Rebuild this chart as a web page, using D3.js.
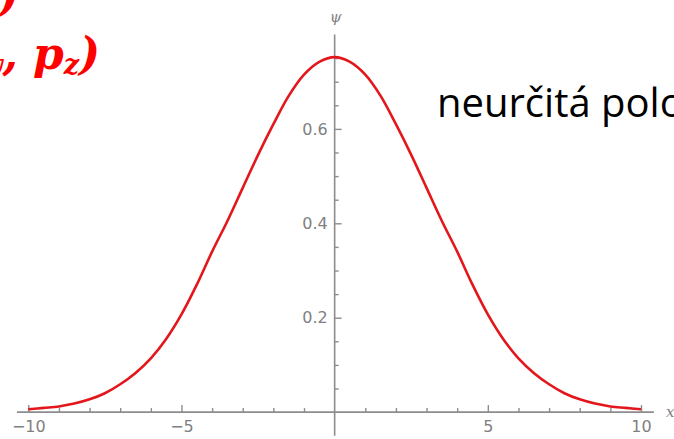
<!DOCTYPE html>
<html>
<head>
<meta charset="utf-8">
<script src="https://d3js.org/d3.v7.min.js"></script>
<style>
  body { margin: 0; background: #fff; }
  svg { display: block; }
  .tick text { font-family: "DejaVu Sans", sans-serif; font-size: 16px; fill: #808080; }
</style>
</head>
<body>
<div id="chart"></div>
<script>
// values (psi at x)
const xs  = [-10, -9.5, -9, -8.5, -8, -7.5, -7, -6.5, -6, -5.5, -5, -4.5, -4, -3.5, -3, -2.5, -2, -1.5, -1, -0.5,
             0, 0.5, 1, 1.5, 2, 2.5, 3, 3.5, 4, 4.5, 5, 5.5, 6, 6.5, 7, 7.5, 8, 8.5, 9, 9.5, 10];
const psi = [0.006, 0.009, 0.012, 0.018, 0.027, 0.040, 0.059, 0.083, 0.114, 0.155, 0.207, 0.270, 0.340, 0.405, 0.475, 0.545, 0.610, 0.670, 0.715, 0.742,
             0.752, 0.742, 0.715, 0.670, 0.610, 0.545, 0.475, 0.405, 0.340, 0.270, 0.207, 0.155, 0.114, 0.083, 0.059, 0.040, 0.027, 0.018, 0.012, 0.009, 0.006];

const xMajor = [-10, -5, 5, 10];
const xMinor = [-9, -8, -7, -6, -4, -3, -2, -1, 1, 2, 3, 4, 6, 7, 8, 9];
const yMajor = [0.2, 0.4, 0.6];
const yMinor = [0.05, 0.1, 0.15, 0.25, 0.3, 0.35, 0.45, 0.5, 0.55, 0.65, 0.7, 0.75];

const width = 674, height = 439;
const axisColor = "#8c8c8c";

const svg = d3.select("#chart").append("svg")
    .attr("width", width)
    .attr("height", height);

const x = d3.scaleLinear().domain([-10, 10]).range([28.3, 641]);
const y = d3.scaleLinear().domain([0, 0.6]).range([412.1, 128.9]);

// axis lines, a bit longer than the data range like Mathematica does
svg.append("line")
    .attr("x1", x(-10.37)).attr("x2", x(10.42))
    .attr("y1", y(0)).attr("y2", y(0))
    .attr("stroke", axisColor).attr("stroke-width", 1.6);
svg.append("line")
    .attr("x1", x(0)).attr("x2", x(0))
    .attr("y1", y(0.8)).attr("y2", y(-0.05))
    .attr("stroke", axisColor).attr("stroke-width", 1.6);

// x ticks (pointing up), labels below
const gx = svg.append("g").attr("transform", `translate(0,${y(0)})`);
gx.append("g")
    .call(d3.axisBottom(x).tickValues(xMinor).tickSize(-4).tickFormat(""));
gx.append("g")
    .call(d3.axisBottom(x).tickValues(xMajor).tickSize(-7).tickPadding(9)
        .tickFormat(d => d < 0 ? "\u2212" + Math.abs(d) : d));
gx.selectAll(".domain").remove();
gx.selectAll(".tick line").attr("stroke", axisColor).attr("stroke-width", 1.4);

// y ticks (pointing right), labels on the left
const gy = svg.append("g").attr("transform", `translate(${x(0)},0)`);
gy.append("g")
    .call(d3.axisLeft(y).tickValues(yMinor).tickSize(-4).tickFormat(""));
gy.append("g")
    .call(d3.axisLeft(y).tickValues(yMajor).tickSize(-7).tickPadding(7)
        .tickFormat(d3.format(".1f")));
gy.selectAll(".domain").remove();
gy.selectAll(".tick line").attr("stroke", axisColor).attr("stroke-width", 1.4);

// axis names
svg.append("text")
    .attr("x", x(0) + 1).attr("y", 22)
    .attr("text-anchor", "middle")
    .style("font-family", "DejaVu Serif, serif").style("font-style", "italic")
    .style("font-size", "15px").style("fill", "#808080")
    .text("ψ");
svg.append("text")
    .attr("x", 666).attr("y", 417)
    .style("font-family", "DejaVu Serif, serif").style("font-style", "italic")
    .style("font-size", "15px").style("fill", "#808080")
    .text("x");

// the curve
const line = d3.line()
    .x((d, i) => x(xs[i]))
    .y(d => y(d))
    .curve(d3.curveCatmullRom);

svg.append("path")
    .datum(psi)
    .attr("fill", "none")
    .attr("stroke", "#e3171b")
    .attr("stroke-width", 2.6)
    .attr("d", line);

// slide text around the plot
const red = svg.append("g")
    .style("font-family", "DejaVu Serif, serif")
    .style("font-weight", "bold").style("font-style", "italic")
    .style("font-size", "44px").style("fill", "#ff0000");

const t1 = red.append("text").attr("x", 19).attr("y", 11).attr("text-anchor", "end");
t1.append("tspan").text("ψ(x, y, z)");

const t2 = red.append("text").attr("x", 100).attr("y", 69).attr("text-anchor", "end");
t2.append("tspan").text("φ(p");
t2.append("tspan").attr("dy", 5).style("font-size", "27px").text("x");
t2.append("tspan").attr("dy", -5).text(", p");
t2.append("tspan").attr("dy", 5).style("font-size", "27px").text("y");
t2.append("tspan").attr("dy", -5).text(", p");
t2.append("tspan").attr("dy", 5).style("font-size", "27px").text("z");
t2.append("tspan").attr("dy", -5).text(")");

svg.append("text")
    .attr("x", 437).attr("y", 117)
    .style("font-family", "Open Sans, sans-serif")
    .style("font-size", "40px").style("fill", "#000")
    .text("neurčitá poloha");
</script>
</body>
</html>
